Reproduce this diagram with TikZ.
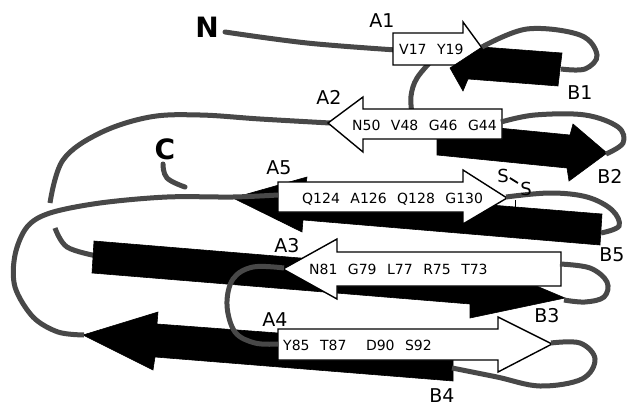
\documentclass[tikz,border=0pt]{standalone}
\usepackage{fontspec}
\setmainfont{DejaVu Sans}
\definecolor{loopgray}{RGB}{72,72,72}
\newcommand\resgap{\hspace{0.75em}}
\begin{document}
\begin{tikzpicture}[x=1pt,y=-1pt,
  loop/.style={line width=5pt, draw=loopgray},
  white strand/.style={fill=white, draw=black, line width=1.4pt, line join=miter},
  black strand/.style={fill=black, draw=black, line width=0.6pt, line join=miter},
  strandlabel/.style={font=\fontsize{19}{19}\selectfont, inner sep=0pt},
  residues/.style={font=\fontsize{14}{14}\selectfont, inner sep=0pt, anchor=west},
  terminus/.style={font=\bfseries\fontsize{28}{28}\selectfont, inner sep=0pt},
  ssbond/.style={font=\fontsize{18}{18}\selectfont, inner sep=0pt}]

\useasboundingbox (0,0) rectangle (628,409);
\fill[white] (0,0) rectangle (628,409);

% ---- chain segments lying underneath the strands
\draw[loop, line cap=round] plot[smooth, tension=0.6] coordinates {(225,32) (307,43) (396,50)};
\draw[loop] plot[smooth, tension=0.6] coordinates {(434,58) (417,78) (411,96) (412,114)};
\draw[loop] plot[smooth, tension=0.6] coordinates {(330,123) (260,119) (200,115) (150,117) (100,133) (63,160) (50,203)};
\draw[loop] plot[smooth, tension=0.6] coordinates {(55,228) (67,247) (97,256)};
\draw[loop, line cap=round] plot[smooth, tension=0.7] coordinates {(163,164) (167,178) (185,187)};

% ---- strands of sheet B (black)
\fill[black strand] (437,122) -- (570,135) -- (573,124) -- (607,153) -- (569,181) -- (567,168) -- (437,155) -- cycle;
\fill[black strand] (94,241) -- (470,272) -- (470,258) -- (565,298) -- (470,318) -- (470,304) -- (92,273) -- cycle;
\fill[black strand] (83,335) -- (158,312) -- (157,324) -- (453,346) -- (453,381) -- (155,357) -- (153,370) -- cycle;
\fill[black strand] (233,198) -- (307,177) -- (305,190) -- (602,214) -- (600,245) -- (303,220) -- (302,232) -- cycle;
\draw[line width=1pt] (515,200) -- (515,207);

% ---- strands of sheet A (white)
\filldraw[white strand] (328,123) -- (363,97) -- (363,109) -- (502,109) -- (502,139) -- (363,139) -- (363,152) -- cycle;
\filldraw[white strand] (283,269) -- (337,239) -- (337,252) -- (561,252) -- (561,286) -- (337,286) -- (337,299) -- cycle;
\filldraw[white strand] (278,329) -- (498,329) -- (498,317) -- (552,344) -- (498,372) -- (498,360) -- (278,360) -- cycle;
\filldraw[white strand] (278,182) -- (463,182) -- (463,170) -- (507,198) -- (463,224) -- (463,212) -- (278,212) -- cycle;
\filldraw[white strand] (393,33) -- (463,33) -- (463,22) -- (482,48) -- (463,74) -- (463,65) -- (393,65) -- cycle;

% B1 lies over the head of A1
\fill[black strand] (450,68) -- (482,47) -- (562,53) -- (558,86) -- (468,79) -- (463,91) -- cycle;

% ---- connecting loops drawn on top
\draw[loop] plot[smooth, tension=0.6] coordinates {(482,47) (527,29) (580,35) (597,55) (585,69) (561,69)};
\draw[loop] plot[smooth, tension=0.6] coordinates {(501,122) (535,115) (585,115) (618,127) (623,143) (606,154)};
\draw[loop] plot[smooth, tension=0.6] coordinates {(506,197) (550,193) (587,197) (612,210) (619,226) (601,233)};
\draw[loop] plot[smooth, tension=0.55] coordinates {(278,195) (233,197) (167,197) (100,203) (50,213) (27,227) (15,255) (15,287) (33,317) (58,332) (84,335)};
\draw[loop] plot[smooth, tension=0.6] coordinates {(284,268) (253,267) (233,279) (227,305) (235,332) (255,343) (278,344)};
\draw[loop] plot[smooth, tension=0.6] coordinates {(560,264) (590,268) (607,282) (604,297) (585,302) (564,300)};
\draw[loop] plot[smooth, tension=0.6] coordinates {(551,343) (580,343) (595,359) (582,379) (540,386) (497,377) (452,368)};

% ---- residue labels
\node[residues] (rA1) at (399,49) {V17\resgap Y19};
\node[residues] (rA2) at (352,125) {N50\resgap V48\resgap G46\resgap G44};
\node[residues] (rA5) at (302,199) {Q124\resgap A126\resgap Q128\resgap G130};
\node[residues] (rA3) at (309,269) {N81\resgap G79\resgap L77\resgap R75\resgap T73};
\node[residues] (rA4) at (283,345) {Y85\resgap T87\hspace{1.4em}D90\resgap S92};

% ---- disulfide bond
\node[ssbond] (s1) at (503,176) {S};
\node[ssbond] (s2) at (526,189) {S};
\draw[line width=1.8pt] (s1.east) ++(1,2) -- ++(8,5);

% ---- strand names and termini
\node[terminus] (nterm) at (207,27) {N};
\node[terminus] (cterm) at (165,149) {C};
\node[strandlabel] (lA1) at (382,21) {A1};
\node[strandlabel] (lB1) at (580,93) {B1};
\node[strandlabel] (lA2) at (329,97) {A2};
\node[strandlabel] (lB2) at (610,176) {B2};
\node[strandlabel] (lA5) at (279,168) {A5};
\node[strandlabel] (lB5) at (612,255) {B5};
\node[strandlabel] (lA3) at (287,246) {A3};
\node[strandlabel] (lB3) at (547,316) {B3};
\node[strandlabel] (lA4) at (275,320) {A4};
\node[strandlabel] (lB4) at (442,396) {B4};
\end{tikzpicture}
\end{document}
